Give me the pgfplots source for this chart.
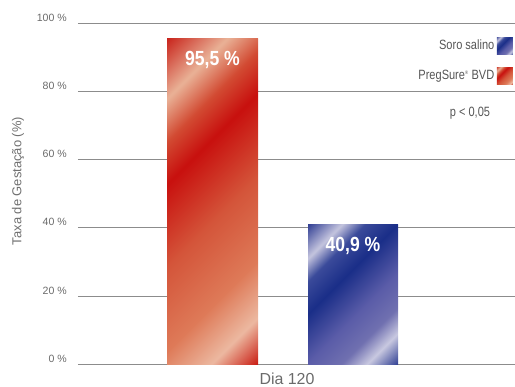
\documentclass[border=0pt]{standalone}
\usepackage{pgfplots}
\pgfplotsset{compat=1.18}
\usepackage{fontspec}
\setmainfont{Liberation Sans}
\newfontfamily\condfont{Liberation Sans}[FakeStretch=0.82]
\newfontfamily\condbold{Liberation Sans}[FakeStretch=0.86]

\definecolor{gridgray}{HTML}{8C8C8C}
\definecolor{ticktext}{HTML}{6A6A6A}
\definecolor{labeltext}{HTML}{707070}
\definecolor{legtext}{HTML}{555555}
% red bar colours
\definecolor{rA}{HTML}{C8221A}
\definecolor{rL}{HTML}{E9B196}
\definecolor{rB}{HTML}{D24A32}
\definecolor{rD}{HTML}{C8100E}
\definecolor{rC}{HTML}{D4553A}
\definecolor{rE}{HTML}{DE7A58}
\definecolor{rL2}{HTML}{ECB8A0}
\definecolor{rZ}{HTML}{C8180F}
% blue bar colours
\definecolor{bA}{HTML}{2E3C92}
\definecolor{bL}{HTML}{C4C4DE}
\definecolor{bB}{HTML}{3A4A9A}
\definecolor{bD}{HTML}{1A2E88}
\definecolor{bC}{HTML}{5A5CA8}
\definecolor{bE}{HTML}{7070B0}
\definecolor{bL2}{HTML}{C8C8E0}
\definecolor{bZ}{HTML}{2A3A90}

\pgfdeclarehorizontalshading{redbar}{100bp}{color(0bp)=(rA); color(25bp)=(rA); color(32.3bp)=(rL); color(37.5bp)=(rB); color(42.5bp)=(rD); color(52.5bp)=(rC); color(62.5bp)=(rE); color(69.3bp)=(rL2); color(75bp)=(rZ); color(100bp)=(rZ)}
\pgfdeclarehorizontalshading{bluebar}{100bp}{color(0bp)=(bA); color(25bp)=(bA); color(32.5bp)=(bL); color(37.5bp)=(bB); color(44.5bp)=(bD); color(55bp)=(bC); color(62.5bp)=(bE); color(68bp)=(bL2); color(75bp)=(bZ); color(100bp)=(bZ)}

\tikzset{stripe/.style 2 args={path picture={%
  \begin{scope}[path picture={}, transform canvas={shift={(path picture bounding box.center)}, rotate=-45}]
    \shade[path picture={}, shading=#1] (-#2bp,-#2bp) rectangle (#2bp,#2bp);
  \end{scope}
}}}

\pgfplotstableread{
x y
212.5 95.5
}\redtable
\pgfplotstableread{
x y
353 40.9
}\bluetable

\begin{document}
\begin{tikzpicture}
\begin{axis}[
  scale only axis, width=437bp, height=341bp,
  xmin=78, xmax=515, ymin=0, ymax=100,
  axis line style={draw=none},
  major tick length=0pt,
  ytick={0,20,40,60,80,100},
  yticklabels={0 \%,20 \%,40 \%,60 \%,80 \%,100 \%},
  yticklabel style={font=\fontsize{10.6}{12}\selectfont, text=ticktext, anchor=base east, inner sep=0pt, xshift=-11bp, yshift=2bp},
  xtick={287}, xticklabels={Dia 120},
  xticklabel style={font=\fontsize{16}{18}\selectfont, text=ticktext, anchor=base, inner sep=0pt, yshift=-20.4bp},
  ymajorgrids, grid style={draw=gridgray, line width=1.1bp},
  ylabel={Taxa de Gestação (\%)},
  ylabel style={font=\fontsize{13}{14}\selectfont, text=labeltext, at={(axis description cs:-0.137,0.5375)}, anchor=center},
  clip=false,
  legend cell align=right, legend plot pos=right,
  legend style={at={(rel axis cs:1,1)}, anchor=north east, xshift=-2bp, yshift=-13.7bp, draw=none, fill=none, inner sep=0pt, row sep=13bp,
    nodes={font=\condfont\fontsize{13.5}{15}\selectfont, text=legtext, inner sep=2.5bp}},
]
\addplot[ybar, bar width=90, bar shift=0pt, draw=none, fill=none, stripe={bluebar}{82}, forget plot] table[x=x,y=y] {\bluetable};
\addlegendimage{legend image code/.code={\path[draw=none, stripe={bluebar}{12.5}] (0bp,-8.5bp) rectangle (16bp,8.5bp);}}
\addlegendentry{Soro salino}
\addplot[ybar, bar width=91, bar shift=0pt, draw=none, fill=none, stripe={redbar}{148}, forget plot] table[x=x,y=y] {\redtable};
\addlegendimage{legend image code/.code={\path[draw=none, stripe={redbar}{12.5}] (0bp,-8.5bp) rectangle (16bp,8.5bp);}}
\addlegendentry{PregSure\textsuperscript{\tiny ®} BVD}
\addplot[forget plot, draw=none, mark=none, nodes near coords, point meta=explicit symbolic,
  every node near coord/.append style={anchor=north, yshift=-9bp, text=white, font=\condbold\bfseries\fontsize{20.5}{22}\selectfont}]
  coordinates {(212.5,95.5) [95,5 \%] (353,40.9) [40,9 \%]};
\node[font=\condfont\fontsize{13.5}{15}\selectfont, text=legtext] at (axis cs:470,73.7) {p < 0,05};
\end{axis}
\pgfresetboundingbox
\useasboundingbox (-78bp,-22.7bp) rectangle (437bp,364.3bp);
\end{tikzpicture}
\end{document}
